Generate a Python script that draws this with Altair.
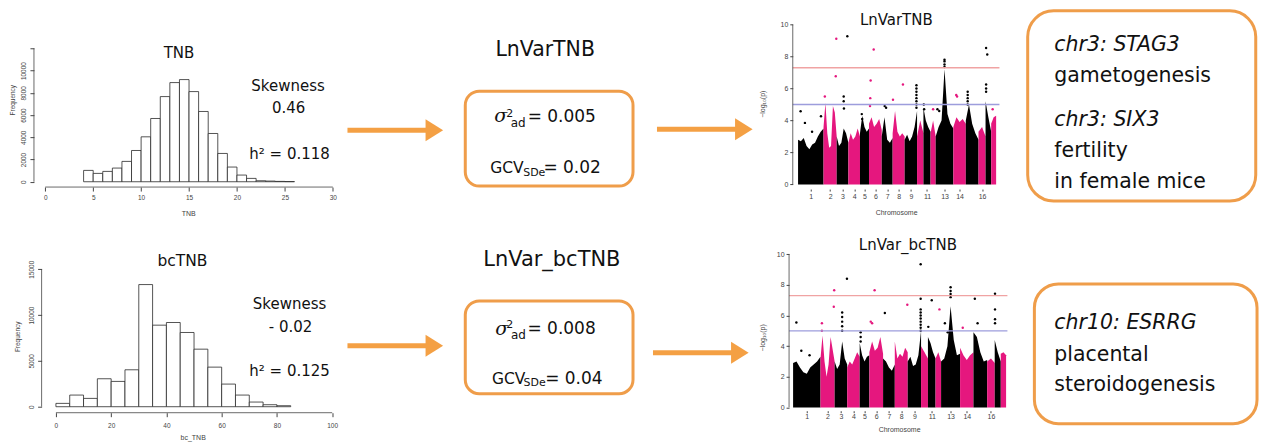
import altair as alt
import pandas as pd

# ---------------- data ----------------
tnb_bin_start = list(range(4, 26))
tnb_counts = [1020, 750, 930, 1230, 1830, 2810, 4040, 5690, 7660, 8920, 9190,
              8110, 6320, 4340, 2545, 1320, 600, 300, 90, 60, 30, 15]
tnb_bin_width = 1
tnb_xticks = [0, 5, 10, 15, 20, 25, 30]
tnb_yticks = [0, 2000, 4000, 6000, 8000, 10000, 12000]

bctnb_bin_start = list(range(0, 85, 5))
bctnb_counts = [363, 1270, 908, 3050, 2760, 4030, 13330, 8900, 9190, 8100,
                6280, 4320, 2470, 1270, 508, 218, 109]
bctnb_bin_width = 5
bctnb_xticks = [0, 20, 40, 60, 80, 100]
bctnb_yticks = [0, 5000, 10000, 15000]

manh_yticks = [0, 2, 4, 6, 8, 10]
chrom_len_mb = [315.3, 162.6, 144.8, 143.5, 111.5, 157.8, 134.8, 148.5, 153.7,
                79.1, 87.7, 63.6, 218.6, 154.0, 157.7, 86.9, 69.7, 61.2]
chrom_labels_shown = ['1', '2', '3', '4', '5', '6', '7', '8', '9', '11', '13', '14', '16']
thresholds = [7.3, 5.0]

# upper envelope of the dense SNP cloud, per chromosome (-log10 p)
top_env = [
    [2.8, 2.7, 2.9, 2.4, 2.2, 2.5, 2.6, 3.0, 3.3, 3.5],
    [3.6, 5.1, 3.2, 2.3, 2.4, 4.9, 4.5, 3.0],
    [3.0, 2.4, 2.6, 3.5, 3.2, 2.6],
    [2.6, 3.2, 2.8, 3.0, 3.5, 3.0],
    [3.2, 4.3, 3.6, 3.3, 3.5],
    [3.8, 4.2, 3.6, 3.8, 4.1, 3.4],
    [3.0, 4.2, 2.8, 2.6, 2.9],
    [3.2, 4.6, 3.3, 3.0, 3.2, 3.0],
    [2.8, 3.1, 2.7, 3.0, 3.6, 4.6],
    [3.0, 4.0, 3.2],
    [4.8, 4.0, 3.6, 3.3],
    [3.2, 4.0, 3.0],
    [3.0, 3.6, 4.0, 7.2, 4.4, 3.8, 3.5],
    [3.6, 4.2, 3.9, 4.1, 3.8],
    [4.0, 5.0, 3.8, 3.2, 2.8],
    [3.3, 3.6, 3.0],
    [5.2, 4.2, 3.3],
    [3.8, 4.2, 4.3],
]
top_pt_chr = [1, 1, 1, 1, 2, 2, 2, 3, 3, 3, 3, 5, 5, 6, 6, 6, 6, 7, 7, 8, 8,
              9, 9, 9, 9, 9, 9, 9, 9, 11, 11, 12, 13, 13, 13, 13, 13, 13,
              14, 14, 15, 15, 15, 15, 15, 17, 17, 17, 17, 17, 18]
top_pt_frac = [0.1, 0.27, 0.55, 0.9, 0.1, 0.93, 0.97, 0.6, 0.6, 0.62, 0.91, 0.2, 0.25,
               0.13, 0.37, 0.1, 0.08, 0.27, 0.4, 0.03, 0.86,
               0.95, 0.95, 0.95, 0.95, 0.95, 0.95, 0.95, 0.95, 0.05, 0.1, 0.5,
               0.5, 0.5, 0.5, 0.5, 0.1, 0.2, 0.23, 0.3, 0.15, 0.15, 0.15, 0.15, 0.15,
               0.1, 0.3, 0.1, 0.1, 0.1, 0.3]
top_pt_val = [4.58, 3.85, 3.3, 4.27, 5.5, 6.77, 9.12, 5.5, 5.2, 4.75, 9.27, 4.4, 4.1,
              6.5, 8.44, 5.4, 4.9, 4.9, 4.8, 5.3, 6.25,
              6.2, 6.0, 5.8, 5.6, 5.4, 5.2, 5.0, 4.8, 5.0, 4.7, 4.7,
              7.8, 7.7, 7.5, 7.35, 4.7, 4.6, 5.6, 5.5, 5.8, 5.6, 5.4, 5.2, 5.0,
              8.54, 8.13, 6.25, 6.0, 5.8, 4.7]

bot_env = [
    [2.9, 3.0, 2.6, 2.3, 2.2, 2.6, 2.8, 3.0, 3.3],
    [3.2, 4.7, 3.0, 2.0, 2.8, 4.6, 3.8, 3.0],
    [3.0, 2.5, 2.8, 4.3, 3.2, 2.8],
    [2.6, 3.0, 2.8, 3.2, 3.6, 3.3],
    [4.2, 3.4, 3.0, 3.3, 3.4],
    [3.6, 4.3, 3.7, 3.9, 4.6, 3.5],
    [3.2, 3.0, 2.6, 2.4, 2.8],
    [4.3, 3.2, 3.5, 3.3, 3.9, 3.6],
    [3.0, 3.3, 2.7, 2.8, 3.4, 5.0],
    [4.0, 3.6, 3.2],
    [4.6, 4.2, 3.6, 3.2],
    [3.2, 3.6, 3.0],
    [3.0, 3.2, 4.0, 6.6, 4.4, 3.4, 3.5],
    [3.9, 3.4, 3.1, 3.4, 3.6],
    [4.9, 4.6, 3.6, 3.0, 3.1],
    [3.0, 3.2, 2.9],
    [4.4, 3.6, 3.0],
    [3.5, 3.6, 3.4],
]
bot_pt_chr = [1, 1, 1, 2, 2, 2, 2, 3, 3, 3, 3, 3, 3, 5, 5, 5, 6, 6, 6, 7, 8,
              9, 9, 9, 9, 9, 9, 9, 9, 9, 9, 11, 11, 12, 13, 13, 13, 13, 13, 13,
              14, 15, 15, 17, 17, 17, 17]
bot_pt_frac = [0.12, 0.3, 0.6, 0.1, 0.1, 0.97, 0.94, 0.6, 0.6, 0.6, 0.6, 0.6, 0.98,
               0.1, 0.1, 0.1, 0.1, 0.2, 0.38, 0.15, 0.97,
               0.97, 0.97, 0.97, 0.97, 0.97, 0.97, 0.97, 0.97, 0.97, 0.97,
               0.5, 0.05, 0.7, 0.5, 0.5, 0.5, 0.5, 0.2, 0.35,
               0.2, 0.1, 0.3, 0.05, 0.05, 0.05, 0.05]
bot_pt_val = [5.54, 3.7, 3.4, 5.5, 5.0, 7.65, 6.57, 6.2, 5.9, 5.6, 5.3, 5.0, 8.4,
              4.9, 4.6, 4.3, 5.6, 5.5, 7.65, 6.17, 6.7,
              9.35, 7.1, 6.4, 6.2, 6.0, 5.8, 5.6, 5.4, 5.2, 5.0,
              7.0, 5.26, 6.4, 7.85, 7.6, 7.4, 7.2, 5.5, 4.9,
              5.2, 7.1, 5.5, 7.43, 6.4, 5.76, 5.5]

# ---------------- styling ----------------
ORANGE = "#f4a044"
BOX = "#ef9d4a"
PINK = "#e5177e"
BLACK = "#000000"
RGRAY = "#444444"
RFONT = "Liberation Sans"
PFONT = "DejaVu Sans"
ONE = alt.Data(values=[{"k": 0}])

W1, W2, W3, W4 = 307, 453, 217, 270
H1, H2 = 178, 180


def txt(s, x, y, size, align="center", style="normal", font=PFONT, color="#111111",
        angle=0, baseline="alphabetic"):
    return alt.Chart(ONE).mark_text(
        text=s, fontSize=size, align=align, baseline=baseline, fontStyle=style,
        font=font, color=color, angle=angle
    ).encode(x=alt.value(x), y=alt.value(y))


def arrow(x0, x1, y):
    shaft = alt.Chart(ONE).mark_rule(color=ORANGE, strokeWidth=5).encode(
        x=alt.value(x0), x2=alt.value(x1), y=alt.value(y))
    head = alt.Chart(ONE).mark_point(
        shape="M -0.8 -1 L 0.8 0 L -0.8 1 Z", filled=True, size=484,
        color=ORANGE, opacity=1, strokeWidth=0
    ).encode(x=alt.value(x1 + 8), y=alt.value(y))
    return [shaft, head]


def rbox(x0, x1, y0, y1, r):
    return alt.Chart(ONE).mark_rect(
        filled=False, stroke=BOX, strokeWidth=3, cornerRadius=r
    ).encode(x=alt.value(x0), x2=alt.value(x1), y=alt.value(y0), y2=alt.value(y1))


def hist_panel(bin_start, bw, counts, xticks, yticks, xdom, ydom, H, yoff,
               xlab_pad, hide_top, extra):
    xs = alt.Scale(domain=xdom, nice=False, zero=False)
    ys = alt.Scale(domain=ydom, nice=False, zero=False)
    df = pd.DataFrame({"start": bin_start,
                       "end": [b + bw for b in bin_start],
                       "count": counts})
    lab = "datum.value > 11000 && datum.value < 13000 ? '' : datum.label" if hide_top else "datum.label"
    xaxis = alt.Axis(
        values=xticks, domain=False, grid=False, tickSize=4, tickColor=RGRAY,
        labelFontSize=6.5, labelFont=RFONT, labelColor=RGRAY, labelPadding=xlab_pad,
        title=None, format="d")
    yaxis = alt.Axis(
        values=yticks, domain=False, grid=False, tickSize=4, tickColor=RGRAY,
        labelFontSize=6.5, labelFont=RFONT, labelColor=RGRAY, labelAngle=270,
        labelPadding=3, offset=yoff, title=None, format="d", labelExpr=lab)
    bars = alt.Chart(df).mark_rect(fill="white", stroke="#2a2a2a", strokeWidth=0.8).encode(
        x=alt.X("start:Q", scale=xs, axis=xaxis),
        x2="end:Q",
        y=alt.Y("count:Q", scale=ys, axis=yaxis),
        y2=alt.datum(0),
    )
    xline = alt.Chart(pd.DataFrame({"start": [xticks[0]], "end": [xticks[-1]]})).mark_rule(
        color=RGRAY, strokeWidth=0.8).encode(
        x=alt.X("start:Q", scale=xs, axis=xaxis), x2="end:Q", y=alt.value(H))
    yline = alt.Chart(pd.DataFrame({"count": [yticks[0]], "c2": [yticks[-1]]})).mark_rule(
        color=RGRAY, strokeWidth=0.8).encode(
        y=alt.Y("count:Q", scale=ys, axis=yaxis), y2="c2:Q", x=alt.value(-yoff))
    return alt.layer(bars, xline, yline, *extra).properties(width=W1, height=H)


def manh_panel(env, pchr, pfrac, pval, xdom, ydom, H, yoff, xoff, xlab_pad,
               rule_x0, rule_x1, extra):
    starts = [sum(chrom_len_mb[:i]) for i in range(len(chrom_len_mb))]
    cols = [BLACK if i % 2 == 0 else PINK for i in range(len(chrom_len_mb))]
    rows = []
    for i, vals in enumerate(env):
        n = len(vals)
        for k, v in enumerate(vals):
            rows.append({"chr": i + 1, "x": starts[i] + chrom_len_mb[i] * k / (n - 1),
                         "y": v, "col": cols[i]})
    env_df = pd.DataFrame(rows)
    pts_df = pd.DataFrame({
        "chr": pchr,
        "x": [starts[c - 1] + chrom_len_mb[c - 1] * f for c, f in zip(pchr, pfrac)],
        "y": pval,
        "col": [cols[c - 1] for c in pchr]})
    centers = [round(starts[int(l) - 1] + chrom_len_mb[int(l) - 1] / 2, 2) for l in chrom_labels_shown]
    lab_expr = "[" + ",".join("'%s'" % l for l in chrom_labels_shown) + "][indexof([" + \
        ",".join(str(c) for c in centers) + "], datum.value)]"
    xs = alt.Scale(domain=xdom, nice=False, zero=False)
    ys = alt.Scale(domain=ydom, nice=False, zero=False)
    xaxis = alt.Axis(
        values=centers, labelExpr=lab_expr, domain=False, grid=False, tickSize=2,
        tickColor=RGRAY, labelFontSize=7, labelFont=RFONT, labelColor=RGRAY,
        labelPadding=xlab_pad, offset=xoff, title=None)
    yaxis = alt.Axis(
        values=manh_yticks, domain=False, grid=False, tickSize=3, tickColor=RGRAY,
        labelFontSize=7, labelFont=RFONT, labelColor=RGRAY, labelPadding=2,
        offset=yoff, title=None, format="d")
    body = alt.Chart(env_df).mark_area(interpolate="linear").encode(
        x=alt.X("x:Q", scale=xs, axis=xaxis),
        y=alt.Y("y:Q", scale=ys, stack=None, axis=yaxis),
        color=alt.Color("col:N", scale=None),
        detail="chr:N",
    )
    pts = alt.Chart(pts_df).mark_circle(size=6, opacity=1).encode(
        x=alt.X("x:Q", scale=xs, axis=xaxis),
        y=alt.Y("y:Q", scale=ys, axis=yaxis),
        color=alt.Color("col:N", scale=None),
    )
    thr = alt.Chart(pd.DataFrame({"y": thresholds, "c": ["#f0a3a3", "#9d9ddc"]})).mark_rule(
        strokeWidth=1.4).encode(
        y=alt.Y("y:Q", scale=ys, axis=yaxis), x=alt.value(rule_x0), x2=alt.value(rule_x1),
        color=alt.Color("c:N", scale=None))
    yline = alt.Chart(pd.DataFrame({"y": [manh_yticks[0]], "y2": [manh_yticks[-1]]})).mark_rule(
        color=RGRAY, strokeWidth=0.8).encode(
        y=alt.Y("y:Q", scale=ys, axis=yaxis), y2="y2:Q", x=alt.value(-yoff))
    return alt.layer(body, pts, thr, yline, *extra).properties(width=W3, height=H)


# ---------------- row 1 ----------------
r1p1 = hist_panel(
    tnb_bin_start, tnb_bin_width, tnb_counts, tnb_xticks, tnb_yticks,
    [-1.18, 30.80], [-479, 15509], H1, 0, 3, True,
    [alt.Chart(ONE).mark_rule(opacity=0).encode(x=alt.value(-25), y=alt.value(0), y2=alt.value(H1)),
     txt("TNB", 145.3, 48.7, 15),
     txt("Skewness", 254.5, 81.3, 15),
     txt("0.46", 255, 103.7, 15),
     txt("h² = 0.118", 256, 150.3, 15),
     txt("TNB", 155, 205, 7, font=RFONT, color=RGRAY, baseline="middle"),
     txt("Frequency", -21, 91, 6.5, font=RFONT, color=RGRAY, angle=270, baseline="middle")])

r1p2 = alt.layer(
    *arrow(7, 86, 121),
    txt("LnVarTNB", 205, 47, 20.5),
    rbox(125, 293, 82, 177, 14),
    txt("σ", 154, 113, 19, align="left", style="italic", font="DejaVu Serif"),
    txt("2", 166, 107.5, 11, align="left"),
    txt("ad", 170.5, 117.7, 12, align="left"),
    txt("= 0.005", 187.5, 112.7, 17, align="left"),
    txt("GCV", 150, 163.7, 15.5, align="left"),
    txt("SDe", 183, 166.5, 11, align="left"),
    txt("= 0.02", 203.3, 163.7, 17, align="left"),
    *arrow(317, 396, 120),
).properties(width=W2, height=H1)

r1p3 = manh_panel(
    top_env, top_pt_chr, top_pt_frac, top_pt_val, [-65.5, 2615.5], [-0.167, 10.958],
    H1, 0, 2, 1, 0, 207,
    [txt("LnVarTNB", 103.7, 16, 15),
     txt("−log₁₀(p)", -30, 95, 7, font=RFONT, color=RGRAY, angle=270, baseline="middle"),
     txt("Chromosome", 104, 204, 7, font=RFONT, color=RGRAY, baseline="middle")])

r1p4 = alt.layer(
    rbox(18.3, 246.7, 1.5, 192, 26),
    txt("chr3: STAG3", 45, 42, 20.5, align="left", style="italic"),
    txt("gametogenesis", 45, 73, 20.5, align="left"),
    txt("chr3: SIX3", 45, 117, 20.5, align="left", style="italic"),
    txt("fertility", 45, 148, 20.5, align="left"),
    txt("in female mice", 45, 178.7, 20.5, align="left"),
).properties(width=W4, height=H1)

# ---------------- row 2 ----------------
r2p1 = hist_panel(
    bctnb_bin_start, bctnb_bin_width, bctnb_counts, bctnb_xticks, bctnb_yticks,
    [-7.95, 103.01], [-654, 18959], H2, -7.67, 6, False,
    [txt("bcTNB", 148.7, 33, 15.5),
     txt("Skewness", 256, 76.3, 15),
     txt("- 0.02", 257, 99, 15),
     txt("h²  = 0.125", 256, 143, 15),
     txt("bc_TNB", 159.5, 205, 7, font=RFONT, color=RGRAY, baseline="middle"),
     txt("Frequency", -15.5, 104, 6.5, font=RFONT, color=RGRAY, angle=270, baseline="middle")])

r2p2 = alt.layer(
    *arrow(7, 86, 113),
    txt("LnVar_bcTNB", 211.7, 33, 21),
    rbox(125, 293, 68, 161, 14),
    txt("σ", 155, 102, 19, align="left", style="italic", font="DejaVu Serif"),
    txt("2", 166, 95.3, 11, align="left"),
    txt("ad", 170.7, 106.3, 12, align="left"),
    txt("= 0.008", 187.3, 101.3, 17, align="left"),
    txt("GCV", 151.7, 151.3, 15.5, align="left"),
    txt("SDe", 183.3, 153.7, 11, align="left"),
    txt("= 0.04", 205, 151.3, 17, align="left"),
    *arrow(313, 392, 120),
).properties(width=W2, height=H2)

r2p3 = manh_panel(
    bot_env, bot_pt_chr, bot_pt_frac, bot_pt_val, [-3.8, 2489.3], [-0.348, 11.391],
    H2, 3.7, -2, 0, -3.7, 215,
    [txt("LnVar_bcTNB", 115.3, 17.3, 15),
     txt("−log₁₀(p)", -30.3, 105, 7, font=RFONT, color=RGRAY, angle=270, baseline="middle"),
     txt("Chromosome", 107, 197, 7, font=RFONT, color=RGRAY, baseline="middle")])

r2p4 = alt.layer(
    rbox(25, 248, 51, 191, 24),
    txt("chr10: ESRRG", 45, 96.3, 20.5, align="left", style="italic"),
    txt("placental", 45, 128, 20.5, align="left"),
    txt("steroidogenesis", 45, 158, 20.5, align="left"),
).properties(width=W4, height=H2)

chart = alt.concat(
    r1p1, r1p2, r1p3, r1p4, r2p1, r2p2, r2p3, r2p4,
    columns=4, spacing={"row": 46, "column": 0}, bounds="flush", align="each",
).properties(padding=0, background="white").configure_view(stroke="transparent")

chart.save("out.html", embed_options={"renderer": "svg", "actions": False})
